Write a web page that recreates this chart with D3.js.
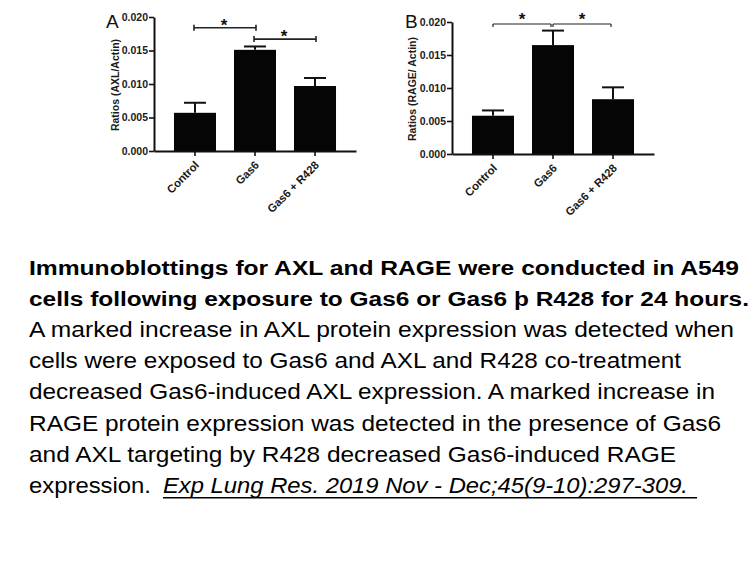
<!DOCTYPE html>
<html><head><meta charset="utf-8">
<script src="https://cdn.jsdelivr.net/npm/d3@7"></script>
<style>
html,body{margin:0;padding:0;background:#fff;}
svg{display:block;font-family:"Liberation Sans",Arial,sans-serif;}
</style></head>
<body>
<svg id="c" width="756" height="567"></svg>
<script>
// ---- data ----
const categories = ["Control", "Gas6", "Gas6 + R428"];
const axlMean = [0.0057, 0.0151, 0.0097];
const axlErr  = [0.0015, 0.0005, 0.0012];
const rageMean = [0.0058, 0.0165, 0.0083];
const rageErr  = [0.0008, 0.0022, 0.0018];
const yTicks = [0, 0.005, 0.010, 0.015, 0.020];
const sigA = [{from:0, to:1, level:0.0184, label:"*"}, {from:1, to:2, level:0.0167, label:"*"}];
const sigB = [{from:0, to:1, level:0.0197, label:"*"}, {from:1, to:2, level:0.0197, label:"*"}];
const captionBold = [
  "Immunoblottings for AXL and RAGE were conducted in A549",
  "cells following exposure to Gas6 or Gas6 \u00fe R428 for 24 hours."
];
const captionBody = [
  "A marked increase in AXL protein expression was detected when",
  "cells were exposed to Gas6 and AXL and R428 co-treatment",
  "decreased Gas6-induced AXL expression. A marked increase in",
  "RAGE protein expression was detected in the presence of Gas6",
  "and AXL targeting by R428 decreased Gas6-induced RAGE"
];
const captionLastPlain = "expression.";
const citation = "Exp Lung Res. 2019 Nov - Dec;45(9-10):297-309.";

const svg = d3.select("#c");
const FONT = '"Liberation Sans",Arial,sans-serif';

function panel(opt) {
  const g = svg.append("g");
  const x = d3.scaleBand().domain(categories).range([opt.x0, opt.x0 + 202])
    .paddingInner(0.3).paddingOuter(0.333);
  const y = d3.scaleLinear().domain([0, 0.02]).range([opt.yb, opt.yt]);
  const bw = x.bandwidth();

  // bars
  g.selectAll("rect.bar").data(opt.mean).join("rect")
    .attr("x", (d,i) => x(categories[i])).attr("width", bw)
    .attr("y", d => y(d)).attr("height", d => y(0) - y(d))
    .attr("fill", "#050505");
  // error bars (upper)
  const eb = g.selectAll("g.eb").data(opt.mean).join("g");
  eb.append("line")
    .attr("x1", (d,i) => x(categories[i]) + bw/2).attr("x2", (d,i) => x(categories[i]) + bw/2)
    .attr("y1", d => y(d)).attr("y2", (d,i) => y(d + opt.err[i]))
    .attr("stroke", "#111").attr("stroke-width", 2);
  eb.append("line")
    .attr("x1", (d,i) => x(categories[i]) + bw/2 - 11).attr("x2", (d,i) => x(categories[i]) + bw/2 + 11)
    .attr("y1", (d,i) => y(d + opt.err[i])).attr("y2", (d,i) => y(d + opt.err[i]))
    .attr("stroke", "#111").attr("stroke-width", 2);

  // y axis
  const ya = g.append("g").attr("transform", `translate(${opt.x0},0)`)
    .call(d3.axisLeft(y).tickValues(yTicks).tickFormat(d3.format(".3f")).tickSize(5).tickSizeOuter(0).tickPadding(1));
  ya.select(".domain").attr("stroke-width", 2).attr("stroke", "#111");
  ya.selectAll(".tick line").attr("stroke-width", 1.6).attr("stroke", "#111");
  ya.selectAll(".tick text").attr("font-size", 10.5).attr("font-weight", "bold").attr("fill", "#1a1a1a")
    .attr("font-family", FONT);

  // x axis
  const xa = g.append("g").attr("transform", `translate(0,${opt.yb})`)
    .call(d3.axisBottom(x).tickSize(5).tickSizeOuter(0));
  xa.select(".domain").attr("stroke-width", 2).attr("stroke", "#111");
  xa.selectAll(".tick line").attr("stroke-width", 1.6).attr("stroke", "#111");
  xa.selectAll(".tick text").attr("font-size", 11.3).attr("font-weight", "bold").attr("fill", "#1a1a1a")
    .attr("font-family", FONT)
    .attr("text-anchor", "end").attr("x", 0).attr("y", 0).attr("dy", "0.35em")
    .attr("transform", "translate(2,12) rotate(-45)");

  // y title
  g.append("text").attr("transform", `translate(${opt.titleX},${opt.titleY}) rotate(-90)`)
    .attr("text-anchor", "middle").attr("font-size", 10.5).attr("font-weight", "bold").attr("fill", "#1a1a1a")
    .text(opt.title);
  // panel letter
  g.append("text").attr("x", opt.letterX).attr("y", opt.letterY).attr("font-size", 19).attr("fill", "#111")
    .text(opt.letter);

  // significance
  opt.sig.forEach(s => {
    const xa1 = x(categories[s.from]) + bw/2 + (opt.style === "hook" ? 0 : -1);
    const xa2 = x(categories[s.to]) + bw/2 + (opt.style === "hook" ? -2 : 1);
    const ys = y(s.level);
    g.append("line").attr("x1", xa1).attr("x2", xa2).attr("y1", ys).attr("y2", ys)
      .attr("stroke", "#222").attr("stroke-width", opt.style === "hook" ? 1.2 : 1.6);
    [xa1, xa2].forEach(xx => {
      g.append("line").attr("x1", xx).attr("x2", xx)
        .attr("y1", opt.style === "hook" ? ys : ys - 3).attr("y2", ys + 3)
        .attr("stroke", "#222").attr("stroke-width", opt.style === "hook" ? 1.2 : 1.6);
    });
    g.append("text").attr("x", (xa1 + xa2)/2 - (opt.style === "hook" ? 0 : 1)).attr("y", ys - opt.starGap)
      .attr("text-anchor", "middle").attr("font-size", 17).attr("font-weight", "bold").attr("fill", "#111")
      .text(s.label);
  });
}

panel({x0:154, yb:151, yt:17, mean:axlMean, err:axlErr, title:"Ratios (AXL/Actin)",
       titleX:119, titleY:85, letter:"A", letterX:106, letterY:28, sig:sigA, style:"cap", starGap:-3});
panel({x0:452, yb:154, yt:22, mean:rageMean, err:rageErr, title:"Ratios (RAGE/ Actin)",
       titleX:416, titleY:89, letter:"B", letterX:405, letterY:28, sig:sigB, style:"hook", starGap:-1});

// caption
const cx = 29, base0 = 275, lh = 31.1;
const boldLens = [710, 720];
const bodyLens = [705, 652, 686, 692, 647];
captionBold.forEach((t, i) => {
  svg.append("text").attr("x", cx).attr("y", base0 + i*lh)
    .attr("font-size", 20).attr("font-weight", "bold").attr("fill", "#000")
    .attr("textLength", boldLens[i]).attr("lengthAdjust", "spacingAndGlyphs").text(t);
});
captionBody.forEach((t, i) => {
  svg.append("text").attr("x", cx).attr("y", base0 + (i+2)*lh)
    .attr("font-size", 21.5).attr("fill", "#000")
    .attr("textLength", bodyLens[i]).attr("lengthAdjust", "spacingAndGlyphs").text(t);
});
const yl = base0 + 7*lh;
svg.append("text").attr("x", cx).attr("y", yl).attr("font-size", 21.5).attr("fill", "#000")
  .attr("textLength", 122).attr("lengthAdjust", "spacingAndGlyphs").text(captionLastPlain);
svg.append("text").attr("x", 163).attr("y", yl).attr("font-size", 21.5).attr("font-style", "italic").attr("fill", "#000")
  .attr("textLength", 525).attr("lengthAdjust", "spacingAndGlyphs").text(citation);
svg.append("line").attr("x1", 163).attr("x2", 697).attr("y1", yl + 5).attr("y2", yl + 5)
  .attr("stroke", "#000").attr("stroke-width", 1.6);
</script>
</body></html>
